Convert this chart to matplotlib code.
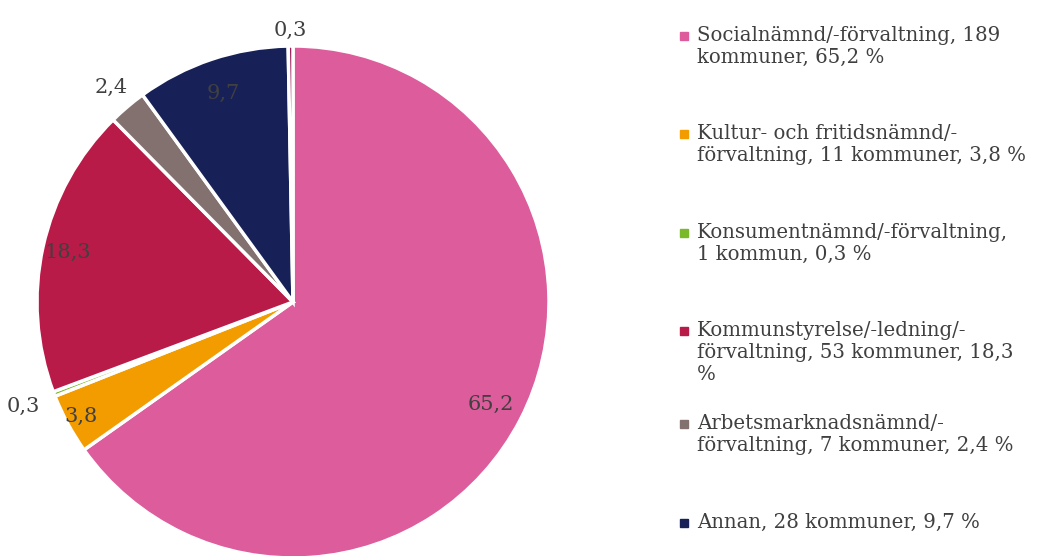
import numpy as np
import matplotlib.pyplot as plt
from matplotlib.patches import Rectangle

# data
shares = [65.2, 3.8, 0.3, 18.3, 2.4, 9.7, 0.3]
share_labels = ["65,2", "3,8", "0,3", "18,3", "2,4", "9,7", "0,3"]
colors = ["#dd5c9b", "#f39c00", "#7ab929", "#b81b48", "#82716e", "#172158", "#9c1f5c"]
legend_labels = [
    "Socialnämnd/-förvaltning, 189\nkommuner, 65,2 %",
    "Kultur- och fritidsnämnd/-\nförvaltning, 11 kommuner, 3,8 %",
    "Konsumentnämnd/-förvaltning,\n1 kommun, 0,3 %",
    "Kommunstyrelse/-ledning/-\nförvaltning, 53 kommuner, 18,3\n%",
    "Arbetsmarknadsnämnd/-\nförvaltning, 7 kommuner, 2,4 %",
    "Annan, 28 kommuner, 9,7 %",
]
# label radial distance per slice (inside / outside)
label_dist = [0.87, 0.94, 1.13, 0.90, 1.10, 0.86, 1.06]

plt.rcParams['font.family'] = ['DejaVu Serif']
txt_color = "#404040"

W, H = 1042, 556
fig = plt.figure(figsize=(W / 100, H / 100), dpi=100)

cx, cy, r = 293, 302, 256
ax = fig.add_axes([(cx - r) / W, (H - cy - r) / H, 2 * r / W, 2 * r / H])

wedges, _ = ax.pie(shares, colors=colors, startangle=90, counterclock=False,
                   radius=1.0, wedgeprops=dict(edgecolor='white', linewidth=2.5))
ax.set_xlim(-1, 1)
ax.set_ylim(-1, 1)
ax.set_aspect('equal')
ax.axis('off')

for w, lab, d in zip(wedges, share_labels, label_dist):
    ang = np.deg2rad((w.theta1 + w.theta2) / 2)
    ax.text(d * np.cos(ang), d * np.sin(ang), lab, ha='center', va='center',
            fontsize=15, color=txt_color, clip_on=False)

# legend
entry_y = [36, 134, 233, 331, 424, 523]
for lab, col, y in zip(legend_labels, colors, entry_y):
    fig.patches.append(Rectangle((680 / W, (H - y - 4) / H), 8 / W, 8 / H,
                                 transform=fig.transFigure, color=col))
    fig.text(697 / W, (H - y + 10) / H, lab, ha='left', va='top', fontsize=14.2,
             color=txt_color, linespacing=1.2,
             transform=fig.transFigure)

fig.savefig("out.png", dpi=100)
